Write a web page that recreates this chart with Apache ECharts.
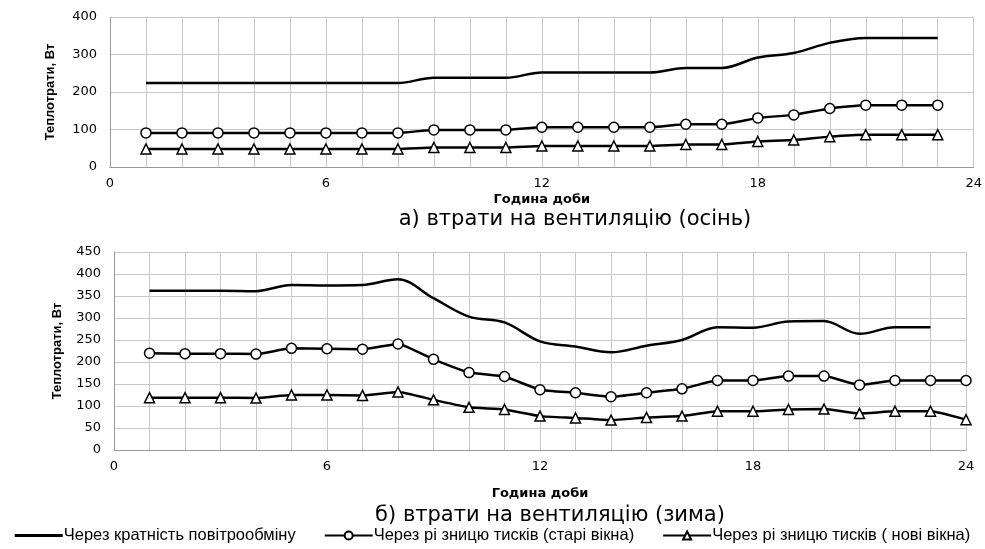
<!DOCTYPE html>
<html>
<head>
    <meta http-equiv="Content-Type" content="text/html; charset=utf-8"/>
    <title>Тепловтрати</title>
    <style>
        html, body { margin: 0; padding: 0; background: #fff; }
        #main { width: 985px; height: 549px; }
    </style>
    <script src="https://cdn.jsdelivr.net/npm/echarts@6/dist/echarts.min.js"></script>
</head>
<body>
<div id="main"></div>
<script type="text/javascript">
    // hours of the day
    var hoursA = [1,2,3,4,5,6,7,8,9,10,11,12,13,14,15,16,17,18,19,20,21,22,23];
    var hoursB = [1,2,3,4,5,6,7,8,9,10,11,12,13,14,15,16,17,18,19,20,21,22,23,24];

    // а) осінь
    var autumnAir = [224,224,224,224,224,224,224,224,238,238,238,252,252,252,252,264,264,292,304,331,344,344,344];
    var autumnOld = [91,91,91,91,91,91,91,91,99,99,99,106,106,106,106,114,114,131,139,156,165,165,165];
    var autumnNew = [48,48,48,48,48,48,48,48,52,52,52,56,56,56,56,60,60,68,72,81,86,86,86];

    // б) зима
    var winterAir = [362,362,362,361,375,374,375,388,345,303,290,247,235,222,237,250,279,278,292,293,264,279,279];
    var winterOld = [220,219,219,218,231,230,229,241,206,176,167,137,130,121,130,139,158,158,168,168,148,158,158,158];
    var winterNew = [119,119,119,118,125,125,124,132,114,97,92,77,73,68,74,77,88,88,92,93,83,88,88,69];

    var names = ['Через кратність повітрообміну', 'Через рі зницю тисків (старі вікна)', 'Через рі зницю тисків ( нові вікна)'];

    function pairs(xs, ys) {
        var out = [];
        for (var i = 0; i < ys.length; i++) out.push([xs[i], ys[i]]);
        return out;
    }

    var tickFont = { fontFamily: 'DejaVu Sans', fontSize: 13, color: '#000' };
    var nameFont = { fontFamily: 'DejaVu Sans', fontSize: 13, fontWeight: 'bold', color: '#000' };
    var yNameFont = { fontFamily: 'Liberation Sans', fontSize: 13, fontWeight: 'bold', color: '#000' };

    function xAxis(idx, gap) {
        return {
            type: 'value', gridIndex: idx, min: 0, max: 24, interval: 1,
            name: 'Година доби', nameLocation: 'middle', nameGap: gap, nameTextStyle: nameFont,
            axisLine: { show: true, lineStyle: { color: '#999' } },
            axisTick: { show: false },
            axisLabel: Object.assign({ margin: 10, formatter: function (v) { return v % 6 === 0 ? v : ''; } }, tickFont),
            splitLine: { show: true, lineStyle: { color: '#c8c8c8' } }
        };
    }
    function yAxis(idx, max, step, gap) {
        return {
            type: 'value', gridIndex: idx, min: 0, max: max, interval: step,
            name: 'Теплотрати, Вт', nameLocation: 'middle', nameGap: gap, nameTextStyle: yNameFont,
            axisLine: { show: true, lineStyle: { color: '#999' } },
            axisTick: { show: false },
            axisLabel: Object.assign({ margin: 13 }, tickFont),
            splitLine: { show: true, lineStyle: { color: '#c8c8c8' } }
        };
    }
    function line(name, idx, data, kind) {
        var s = {
            name: name, type: 'line', xAxisIndex: idx, yAxisIndex: idx, data: data,
            lineStyle: { color: '#000', width: 2.5 },
            itemStyle: { color: '#fff', borderColor: '#000', borderWidth: 1.5 },
            color: '#000',
            silent: true
        };
        if (kind === 'plain') { s.symbol = 'none'; s.smooth = 0.35; }
        if (kind === 'circle') { s.symbol = 'circle'; s.symbolSize = 10; s.smooth = 0.15; }
        if (kind === 'triangle') { s.symbol = 'triangle'; s.symbolSize = 10; s.smooth = 0.15; }
        return s;
    }

    var myChart = echarts.init(document.getElementById('main'));
    var option = {
        animation: false,
        grid: [
            { left: 110, right: 10, top: 17, height: 150 },
            { left: 114, right: 19, top: 252, height: 198 }
        ],
        xAxis: [xAxis(0, 26), xAxis(1, 37)],
        yAxis: [yAxis(0, 400, 100, 53), yAxis(1, 450, 50, 50)],
        legend: {
            bottom: 0, left: 'center', itemGap: 28, itemWidth: 48, itemHeight: 10,
            data: [
                { name: names[0], icon: 'path://M0,0H48V3H0Z', itemStyle: { color: '#000', borderWidth: 0 } },
                { name: names[1] },
                { name: names[2] }
            ],
            textStyle: { fontFamily: 'Liberation Sans', fontSize: 16.5, color: '#000', padding: [0, 0, 0, -4] }
        },
        graphic: [
            { type: 'text', x: 575, y: 220, style: { text: 'а) втрати на вентиляцію (осінь)', fontFamily: 'DejaVu Sans', fontSize: 21, fill: '#000', align: 'center', verticalAlign: 'middle' } },
            { type: 'text', x: 550, y: 516, style: { text: 'б) втрати на вентиляцію (зима)', fontFamily: 'DejaVu Sans', fontSize: 21, fill: '#000', align: 'center', verticalAlign: 'middle' } }
        ],
        series: [
            line(names[0], 0, pairs(hoursA, autumnAir), 'plain'),
            line(names[1], 0, pairs(hoursA, autumnOld), 'circle'),
            line(names[2], 0, pairs(hoursA, autumnNew), 'triangle'),
            line(names[0], 1, pairs(hoursA, winterAir), 'plain'),
            line(names[1], 1, pairs(hoursB, winterOld), 'circle'),
            line(names[2], 1, pairs(hoursB, winterNew), 'triangle')
        ]
    };
    myChart.setOption(option);
</script>
</body>
</html>
